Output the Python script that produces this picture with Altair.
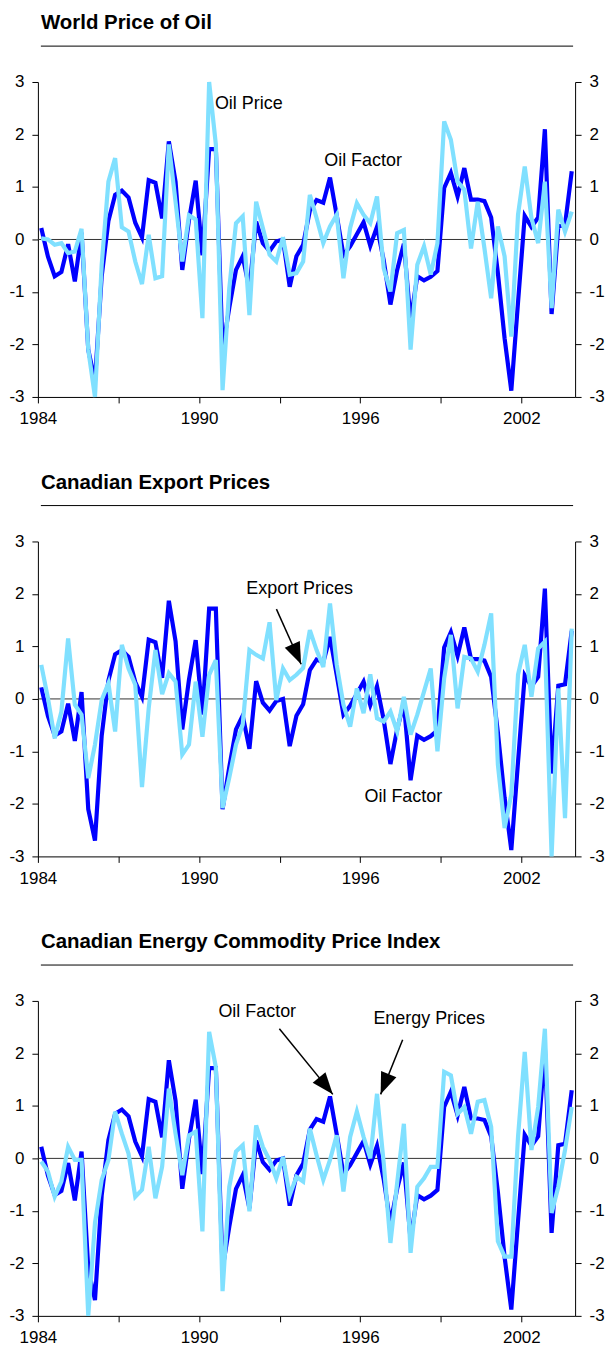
import altair as alt
import pandas as pd

# ---------------- data ----------------
quarters = [1984 + (i + 0.5) / 4 for i in range(80)]  # 1984Q1 .. 2003Q4 (category centres)

oil_factor = [
    0.22, -0.33, -0.70, -0.62, -0.09, -0.80, 0.13, -2.10, -2.70, -0.70,
    0.35, 0.85, 0.93, 0.80, 0.32, 0.04, 1.13, 1.08, 0.40, 1.87,
    1.10, -0.58, 0.37, 1.12, -0.30, 1.72, 1.72, -2.10, -1.30, -0.58,
    -0.32, -0.95, 0.34, -0.07, -0.22, -0.04, 0.00, -0.90, -0.32, -0.10,
    0.55, 0.75, 0.70, 1.18, 0.46, -0.30, -0.13, 0.10, 0.33, -0.12,
    0.24, -0.40, -1.24, -0.58, -0.08, -1.55, -0.70, -0.78, -0.71, -0.60,
    0.98, 1.27, 0.82, 1.36, 0.76, 0.76, 0.73, 0.42, -0.64, -1.88,
    -2.88, -1.20, 0.45, 0.24, 0.42, 2.10, -1.42, 0.25, 0.28, 1.30]

oil_price = [
    0.02, 0.00, -0.10, -0.07, -0.26, -0.23, 0.20, -2.10, -3.00, -0.48,
    1.10, 1.55, 0.23, 0.15, -0.42, -0.85, 0.09, -0.74, -0.70, 1.81,
    0.72, -0.42, 0.46, 0.38, -1.50, 3.00, 1.81, -2.87, -0.93, 0.31,
    0.44, -1.44, 0.72, 0.22, -0.29, -0.42, 0.04, -0.67, -0.64, -0.42,
    0.85, 0.41, -0.07, 0.25, 0.47, -0.74, 0.22, 0.69, 0.47, 0.31,
    0.82, -0.55, -0.99, 0.12, 0.18, -2.10, -0.48, -0.13, -0.67, -0.07,
    2.25, 1.90, 1.10, 0.95, -0.17, 0.72, -0.17, -1.12, 0.25, -0.32,
    -1.85, 0.47, 1.39, 0.41, -0.07, 1.10, -1.31, 0.57, 0.15, 0.53]

export_prices = [
    0.65, 0.01, -0.75, -0.24, 1.15, -0.11, -0.30, -1.51, -0.87, -0.02,
    0.30, -0.62, 1.03, 0.58, 0.27, -1.68, -0.18, 0.93, 0.09, 0.49,
    0.33, -1.06, -0.87, 0.33, -0.72, 0.46, 0.74, -2.08, -1.50, -0.87,
    -0.49, 0.93, 0.84, 0.77, 1.46, -0.02, 0.58, 0.36, 0.46, 0.59,
    1.31, 0.93, 0.61, 1.82, 0.65, -0.11, -0.53, 0.20, -0.27, 0.47,
    -0.37, -0.43, -0.24, -0.62, 0.04, -0.68, -0.30, 0.14, 0.58, -1.00,
    0.39, 1.22, -0.18, 0.80, 0.77, 0.52, 1.03, 1.63, -1.25, -2.46,
    -1.82, 0.46, 1.03, 0.04, 0.96, 1.09, -3.00, 0.20, -2.27, 1.34]

energy_prices = [
    -0.06, -0.25, -0.73, -0.44, 0.22, -0.03, -0.03, -3.00, -1.23, -0.41,
    -0.03, 0.89, 0.47, 0.09, -0.73, -0.60, 0.22, -0.76, -0.16, 1.33,
    0.47, -0.32, 0.44, 0.51, -1.39, 2.41, 1.74, -2.53, -0.54, 0.13,
    0.25, -1.01, 0.63, 0.22, -0.03, -0.38, 0.03, -0.70, -0.35, -0.44,
    0.57, 0.06, -0.41, -0.03, 0.44, -0.63, 0.41, 0.89, 0.41, 0.00,
    1.23, -0.09, -1.61, -0.47, 0.66, -1.80, -0.54, -0.38, -0.16, -0.16,
    1.65, 1.58, 0.85, 0.98, 0.47, 1.08, 1.11, 0.60, -1.58, -1.87,
    -1.87, 0.41, 2.03, 0.16, 0.98, 2.47, -1.04, -0.54, 0.16, 0.98]

x_ticks = [1984, 1987, 1990, 1993, 1996, 1999, 2002]
y_ticks = [-3, -2, -1, 0, 1, 2, 3]

titles = ["World Price of Oil", "Canadian Export Prices",
          "Canadian Energy Commodity Price Index"]

# annotation texts (data coordinates: year, value)
label_text = [["Oil Price", "Oil Factor"],
              ["Export Prices", "Oil Factor"],
              ["Oil Factor", "Energy Prices"]]
label_x = [[1990.59, 1994.66], [1991.76, 1996.16], [1990.72, 1996.49]]
label_y = [[2.58, 1.50], [2.09, -1.87], [2.78, 2.65]]

# arrows: start (x, y) -> tip (x2, y2), head angle in degrees
arrow_x = [[], [1992.88], [1992.99, 1997.58]]
arrow_y = [[], [1.71], [2.47, 2.26]]
arrow_x2 = [[], [1993.80], [1994.98, 1996.76]]
arrow_y2 = [[], [0.66], [1.22, 1.22]]
arrow_angle = [[], [156], [140.7, 201.9]]

# ---------------- style ----------------
FONT = "Liberation Sans"
DARK = "#0000FF"
LIGHT = "#80E0FF"
W, H = 539, 316
HEAD = "M0,0 L-0.38,1 L0.38,1 Z"

xscale = alt.Scale(domain=[1984, 2004], nice=False, zero=False)
yscale = alt.Scale(domain=[-3, 3], nice=False, zero=False)

x_axis = alt.Axis(values=x_ticks, format="d",
                  labelExpr="(datum.value - 1984) % 6 == 0 ? datum.label : ''",
                  labelFlush=False, labelOverlap=False, labelPadding=8,
                  tickSize=6, domain=True, ticks=True, grid=False)
left_axis = alt.Axis(orient="left", values=y_ticks, labelExpr="'' + datum.value",
                     tickSize=6, labelPadding=8, grid=False, domain=True)
right_axis = alt.Axis(orient="right", values=y_ticks, labelExpr="'' + datum.value",
                      tickSize=6, labelPadding=8, grid=False, domain=True)

one = pd.DataFrame({"k": [0]})


def panel(p, other):
    df = pd.DataFrame({"t": quarters, "oil": oil_factor, "other": other})
    X = alt.X("t:Q", scale=xscale, axis=x_axis, title=None)

    zero = alt.Chart(pd.DataFrame({"z": [0]})).mark_rule(
        color="#333333", strokeWidth=1).encode(
        y=alt.Y("z:Q", scale=yscale, axis=right_axis, title=None))

    dark = alt.Chart(df).mark_line(color=DARK, strokeWidth=4.2).encode(
        x=X, y=alt.Y("oil:Q", scale=yscale, axis=left_axis, title=None))

    light = alt.Chart(df).mark_line(color=LIGHT, strokeWidth=4.2).encode(
        x=X, y=alt.Y("other:Q", scale=yscale, axis=None, title=None))

    ttl = alt.Chart(pd.DataFrame({"s": [titles[p]]})).mark_text(
        align="left", baseline="alphabetic", fontSize=20.5, fontWeight="bold",
        font=FONT, color="black").encode(
        x=alt.value(3), y=alt.value(-53), text="s:N")

    ttl_rule = alt.Chart(one).mark_rule(color="black", strokeWidth=1).encode(
        x=alt.value(3), x2=alt.value(537), y=alt.value(-36))

    lab_df = pd.DataFrame({"x": label_x[p], "y": label_y[p], "s": label_text[p]})
    labels = alt.Chart(lab_df).mark_text(
        align="left", baseline="middle", fontSize=18, font=FONT, color="black").encode(
        x=alt.X("x:Q", scale=xscale, axis=x_axis, title=None),
        y=alt.Y("y:Q", scale=yscale, axis=None, title=None),
        text="s:N")

    layers = [zero, dark, light, ttl, ttl_rule, labels]

    if arrow_x[p]:
        arr_df = pd.DataFrame({"x": arrow_x[p], "y": arrow_y[p],
                               "x2": arrow_x2[p], "y2": arrow_y2[p],
                               "a": arrow_angle[p]})
        shafts = alt.Chart(arr_df).mark_rule(color="black", strokeWidth=1.5).encode(
            x=alt.X("x:Q", scale=xscale, axis=x_axis, title=None),
            y=alt.Y("y:Q", scale=yscale, axis=None, title=None),
            x2="x2:Q", y2="y2:Q")
        heads = alt.Chart(arr_df).mark_point(
            shape=HEAD, filled=True, color="black", opacity=1, size=1900,
            strokeWidth=0).encode(
            x=alt.X("x2:Q", scale=xscale, axis=x_axis, title=None),
            y=alt.Y("y2:Q", scale=yscale, axis=None, title=None),
            angle=alt.Angle("a:Q", scale=None))
        layers += [shafts, heads]

    return alt.layer(*layers).resolve_axis(y="independent").properties(
        width=W, height=H)


chart = alt.vconcat(
    panel(0, oil_price),
    panel(1, export_prices),
    panel(2, energy_prices),
    spacing=46,
).properties(
    padding={"left": 0, "top": 3, "right": 0, "bottom": 0}
).configure_view(stroke=None).configure_axis(
    labelFont=FONT, labelFontSize=17, labelColor="black",
    domainColor="black", tickColor="black", domainWidth=1, tickWidth=1,
)

chart.save("out.html", embed_options={"renderer": "svg", "actions": False})
